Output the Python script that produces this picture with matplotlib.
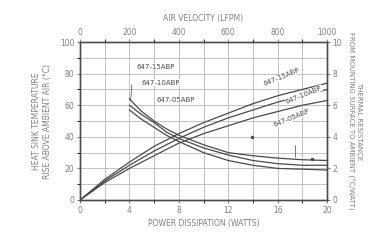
import matplotlib.pyplot as plt
import numpy as np

# natural convection: temperature rise vs power
potencia = np.array([0, 2, 4, 6, 8, 10, 12, 14, 16, 18, 20])
rise_15 = np.array([0, 13, 24, 34, 42, 49, 55, 61, 66, 70, 74])
rise_10 = np.array([0, 12, 22, 31, 39, 46, 52, 57, 62, 66, 70])
rise_05 = np.array([0, 11, 20, 28, 36, 42, 47, 52, 56, 60, 63])

# forced convection: thermal resistance vs air velocity
vel = np.array([200, 250, 300, 350, 400, 500, 600, 700, 800, 900, 1000])
res_15 = np.array([6.4, 5.6, 5.0, 4.5, 4.1, 3.5, 3.0, 2.8, 2.65, 2.55, 2.5])
res_10 = np.array([6.0, 5.4, 4.9, 4.3, 3.9, 3.3, 2.85, 2.5, 2.3, 2.2, 2.2])
res_05 = np.array([5.7, 5.1, 4.6, 4.1, 3.7, 3.0, 2.5, 2.2, 2.0, 1.95, 1.9])

nomes = ['647-15ABP', '647-10ABP', '647-05ABP']

cor = '#4a4a4a'
cor_txt = '#808080'
plt.rcParams['font.size'] = 5.5

fig = plt.figure(figsize=(3.79, 2.46), dpi=100)
ax = fig.add_axes([0.211, 0.187, 0.652, 0.642])

ax.plot(potencia, rise_15, color=cor, lw=0.9)
ax.plot(potencia, rise_10, color=cor, lw=0.9)
ax.plot(potencia, rise_05, color=cor, lw=0.9)
ax.set_xlim(0, 20)
ax.set_ylim(0, 100)
ax.set_xticks([0, 4, 8, 12, 16, 20])
ax.set_xticks(np.arange(0, 21, 2), minor=True)
ax.set_yticks([0, 20, 40, 60, 80, 100])
ax.set_yticks(np.arange(0, 101, 10), minor=True)
ax.grid(True, which='both', color='#aaaaaa', lw=0.5)
ax.set_xlabel('POWER DISSIPATION (WATTS)', color=cor_txt, labelpad=3)
ax.set_ylabel('HEAT SINK TEMPERATURE\nRISE ABOVE AMBIENT AIR (°C)', color=cor_txt, labelpad=6)

axr = ax.twinx()
axr.set_ylim(0, 10)
axr.set_yticks([0, 2, 4, 6, 8, 10])
axr.set_ylabel('THERMAL RESISTANCE\nFROM MOUNTING SURFACE TO AMBIENT (°C/WATT)',
               color=cor_txt, rotation=270, labelpad=14, fontsize=5)
axt = axr.twiny()
axt.set_xlim(0, 1000)
axt.set_xticks([0, 200, 400, 600, 800, 1000])
axt.set_xticks(np.arange(0, 1001, 100), minor=True)
axt.set_xlabel('AIR VELOCITY (LFPM)', color=cor_txt, labelpad=5)
axt.plot(vel, res_15, color=cor, lw=0.9)
axt.plot(vel, res_10, color=cor, lw=0.9)
axt.plot(vel, res_05, color=cor, lw=0.9)

for a in (ax, axr, axt):
    a.tick_params(colors=cor_txt, labelsize=5.5, length=2, pad=2)
    for s in a.spines.values():
        s.set_color(cor)
        s.set_linewidth(0.9)

# labels for forced convection curves
pos_esq = [(4.6, 83), (5.0, 73), (6.2, 62)]
for (px, py), n in zip(pos_esq, nomes):
    ax.text(px, py, n, color=cor, fontsize=5,
            bbox=dict(fc='white', ec='none', pad=0.3))
ax.plot([4.2, 4.1], [73, 63], color=cor, lw=0.5)

# labels for natural convection curves
pos_dir = [(14.8, 72), (16.6, 61), (15.6, 46)]
for (px, py), n in zip(pos_dir, nomes):
    ax.text(px, py, n, color=cor, fontsize=5, rotation=22,
            bbox=dict(fc='white', ec='none', pad=0.2))

ax.plot([17.4, 17.4], [27, 35], color=cor, lw=0.5)
ax.plot([18.8], [26], marker='o', ms=1.5, color=cor)
ax.plot([13.9], [40], marker='o', ms=1.5, color=cor)

fig.savefig('out.png', dpi=100)
